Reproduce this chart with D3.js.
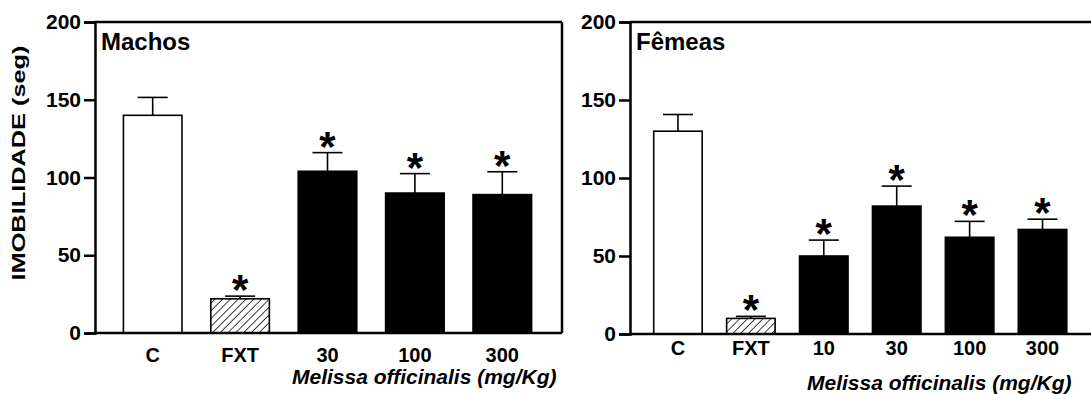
<!DOCTYPE html>
<html>
<head>
<meta charset="utf-8">
<script src="https://cdn.jsdelivr.net/npm/d3@7"></script>
<style>
body { margin: 0; background: #fff; }
text { font-family: "Liberation Sans", Arial, sans-serif; font-weight: bold; fill: #000; }
</style>
</head>
<body>
<script>
var w = 1091;
var h = 394;

// machos
var catsM = ["C", "FXT", "30", "100", "300"];
var meanM = [140, 22, 104, 90, 89];
var semM = [11.5, 1.7, 12, 12.5, 14.7];
var starM = [false, true, true, true, true];

// femeas
var catsF = ["C", "FXT", "10", "30", "100", "300"];
var meanF = [130, 10, 50, 82, 62, 67];
var semF = [10.7, 1.3, 10.2, 12.8, 10.2, 6.6];
var starF = [false, true, true, true, true, true];

var yTicks = [0, 50, 100, 150, 200];

var svg = d3.select("body")
    .append("svg")
    .attr("width", w)
    .attr("height", h);

// hatch pattern for FXT
svg.append("defs").append("pattern")
    .attr("id", "hatch")
    .attr("patternUnits", "userSpaceOnUse")
    .attr("width", 5.5)
    .attr("height", 5.5)
    .attr("patternTransform", "rotate(45)")
    .append("line")
    .attr("x1", 0).attr("y1", 0)
    .attr("x2", 0).attr("y2", 5.5)
    .attr("stroke", "#000")
    .attr("stroke-width", 1.5);

function fillFor(c) {
    if (c == "C") return "#fff";
    if (c == "FXT") return "url(#hatch)";
    return "#000";
}

function panel(opt) {
    var g = svg.append("g");
    var x = d3.scaleBand()
        .domain(opt.cats)
        .range(opt.xr)
        .paddingInner(opt.pad)
        .paddingOuter(opt.pad / 2);
    var y = d3.scaleLinear().domain([0, 200]).range([opt.y0, 22]);

    var rows = opt.cats.map(function(c, i) {
        return { c: c, m: opt.mean[i], s: opt.sem[i], star: opt.star[i] };
    });

    // error bars (upper only)
    g.selectAll(".err").data(rows).enter().append("line")
        .attr("x1", function(d) { return x(d.c) + x.bandwidth() / 2; })
        .attr("x2", function(d) { return x(d.c) + x.bandwidth() / 2; })
        .attr("y1", function(d) { return y(d.m); })
        .attr("y2", function(d) { return y(d.m + d.s); })
        .attr("stroke", "#000").attr("stroke-width", 1.6);
    g.selectAll(".cap").data(rows).enter().append("line")
        .attr("x1", function(d) { return x(d.c) + x.bandwidth() / 2 - 15; })
        .attr("x2", function(d) { return x(d.c) + x.bandwidth() / 2 + 15; })
        .attr("y1", function(d) { return y(d.m + d.s); })
        .attr("y2", function(d) { return y(d.m + d.s); })
        .attr("stroke", "#000").attr("stroke-width", 1.6);

    g.selectAll(".bar").data(rows).enter().append("rect")
        .attr("x", function(d) { return x(d.c); })
        .attr("y", function(d) { return y(d.m); })
        .attr("width", x.bandwidth())
        .attr("height", function(d) { return y(0) - y(d.m); })
        .attr("fill", function(d) { return fillFor(d.c); })
        .attr("stroke", "#000")
        .attr("stroke-width", 1.6);

    g.selectAll(".star").data(rows.filter(function(d) { return d.star; })).enter().append("text")
        .attr("x", function(d) { return x(d.c) + x.bandwidth() / 2; })
        .attr("y", function(d) { return y(d.m + d.s) + 8; })
        .attr("text-anchor", "middle")
        .style("font-size", "42px")
        .text("*");

    // frame
    var ax = opt.xa;
    g.append("line").attr("x1", ax).attr("x2", opt.xe).attr("y1", y(200)).attr("y2", y(200))
        .attr("stroke", "#000").attr("stroke-width", 2.5);
    g.append("line").attr("x1", ax).attr("x2", opt.xe).attr("y1", y(0)).attr("y2", y(0))
        .attr("stroke", "#000").attr("stroke-width", 2.5);
    if (opt.rightBorder) {
        g.append("line").attr("x1", opt.xe).attr("x2", opt.xe).attr("y1", y(200)).attr("y2", y(0))
            .attr("stroke", "#000").attr("stroke-width", 2.5);
    }

    var yAxis = d3.axisLeft(y).tickValues(yTicks).tickSize(11).tickPadding(3);
    var ya = g.append("g").attr("transform", "translate(" + ax + ",0)").call(yAxis)
        .attr("font-family", "Liberation Sans")
        .attr("font-size", 21)
        .attr("font-weight", "bold");
    ya.select(".domain").attr("stroke-width", 2.5);
    ya.selectAll(".tick line").attr("stroke-width", 2.5);

    g.selectAll(".xl").data(opt.cats).enter().append("text")
        .attr("x", function(d) { return x(d) + x.bandwidth() / 2; })
        .attr("y", opt.tickY)
        .attr("text-anchor", "middle")
        .style("font-size", "20px")
        .text(function(d) { return d; });

    g.append("text")
        .attr("x", opt.titleX)
        .attr("y", opt.titleY)
        .style("font-size", "21px")
        .style("font-style", "italic")
        .text("Melissa officinalis (mg/Kg)");

    g.append("text")
        .attr("x", ax + 6)
        .attr("y", 50)
        .style("font-size", "24px")
        .text(opt.label);
}

panel({ cats: catsM, mean: meanM, sem: semM, star: starM, xr: [109, 546], pad: 0.33,
    y0: 333, xa: 95, xe: 562, rightBorder: true, tickY: 362, titleX: 292, titleY: 384, label: "Machos" });
panel({ cats: catsF, mean: meanF, sem: semF, star: starF, xr: [641.5, 1079], pad: 0.335,
    y0: 334, xa: 630, xe: 1091, rightBorder: false, tickY: 355, titleX: 807, titleY: 390, label: "Fêmeas" });

svg.append("text")
    .attr("transform", "translate(25,163) rotate(-90)")
    .attr("text-anchor", "middle")
    .attr("textLength", 235)
    .attr("lengthAdjust", "spacingAndGlyphs")
    .style("font-size", "19px")
    .text("IMOBILIDADE (seg)");
</script>
</body>
</html>
